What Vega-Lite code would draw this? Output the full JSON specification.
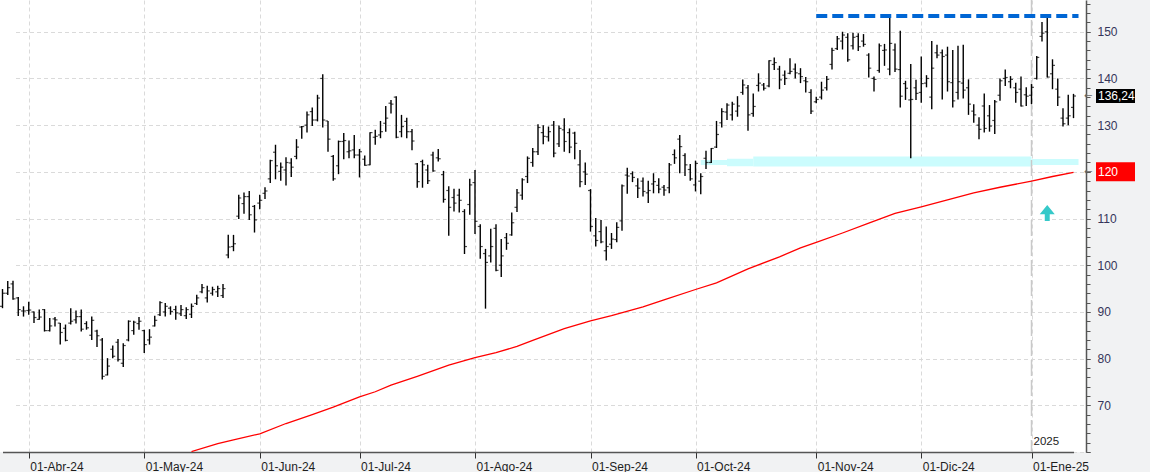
{
  "$schema": "https://vega.github.io/schema/vega-lite/v6.json",
  "width": 1086,
  "height": 452,
  "autosize": {"type": "none"},
  "padding": {"left": 0, "top": 0, "right": 64, "bottom": 20},
  "background": "#f1f2f3",
  "config": {"view": {"fill": "#ffffff", "stroke": null}, "font": "Liberation Sans"},
  "resolve": {"axis": {"y": "independent"}},
  "datasets": {
    "bars": [
      {"d":"2024-03-22","o":91.2,"h":94.9,"l":90.8,"c":94.0},
      {"d":"2024-03-25","o":94.0,"h":96.6,"l":93.6,"c":95.2},
      {"d":"2024-03-26","o":96.0,"h":96.7,"l":92.6,"c":92.8},
      {"d":"2024-03-27","o":93.0,"h":93.2,"l":89.1,"c":90.5},
      {"d":"2024-03-28","o":90.2,"h":91.2,"l":89.0,"c":90.2},
      {"d":"2024-04-01","o":90.3,"h":92.2,"l":89.4,"c":90.4},
      {"d":"2024-04-02","o":90.0,"h":90.1,"l":87.6,"c":88.8},
      {"d":"2024-04-03","o":88.4,"h":90.5,"l":88.3,"c":88.9},
      {"d":"2024-04-04","o":90.5,"h":90.6,"l":85.8,"c":86.0},
      {"d":"2024-04-05","o":86.0,"h":88.7,"l":85.8,"c":87.0},
      {"d":"2024-04-08","o":88.5,"h":88.9,"l":86.9,"c":88.3},
      {"d":"2024-04-09","o":87.6,"h":87.6,"l":83.0,"c":85.6},
      {"d":"2024-04-10","o":86.5,"h":87.3,"l":83.7,"c":83.9},
      {"d":"2024-04-11","o":87.6,"h":90.8,"l":87.3,"c":88.0},
      {"d":"2024-04-12","o":88.3,"h":90.3,"l":87.5,"c":89.0},
      {"d":"2024-04-15","o":89.0,"h":90.5,"l":85.8,"c":86.3},
      {"d":"2024-04-16","o":87.5,"h":88.0,"l":86.2,"c":86.6},
      {"d":"2024-04-17","o":85.0,"h":89.0,"l":84.0,"c":88.2},
      {"d":"2024-04-18","o":85.9,"h":86.2,"l":82.5,"c":84.9},
      {"d":"2024-04-19","o":84.0,"h":84.4,"l":75.5,"c":76.2},
      {"d":"2024-04-22","o":76.5,"h":80.1,"l":76.4,"c":78.4},
      {"d":"2024-04-23","o":82.0,"h":82.8,"l":80.1,"c":80.5},
      {"d":"2024-04-24","o":83.5,"h":84.2,"l":79.4,"c":79.8},
      {"d":"2024-04-25","o":79.0,"h":83.3,"l":78.2,"c":82.8},
      {"d":"2024-04-26","o":84.0,"h":88.2,"l":83.7,"c":88.0},
      {"d":"2024-04-29","o":86.0,"h":88.1,"l":85.1,"c":87.8},
      {"d":"2024-04-30","o":87.5,"h":88.9,"l":86.2,"c":88.0},
      {"d":"2024-05-01","o":86.0,"h":86.2,"l":81.2,"c":83.0},
      {"d":"2024-05-02","o":84.0,"h":86.3,"l":83.0,"c":84.6},
      {"d":"2024-05-03","o":87.0,"h":89.2,"l":86.9,"c":88.2},
      {"d":"2024-05-06","o":89.4,"h":92.3,"l":89.1,"c":92.0},
      {"d":"2024-05-07","o":90.0,"h":91.9,"l":89.0,"c":91.2},
      {"d":"2024-05-08","o":90.8,"h":91.2,"l":89.4,"c":90.1},
      {"d":"2024-05-09","o":90.5,"h":91.3,"l":88.3,"c":89.8},
      {"d":"2024-05-10","o":89.6,"h":91.5,"l":89.1,"c":90.5},
      {"d":"2024-05-13","o":89.2,"h":91.0,"l":88.5,"c":90.5},
      {"d":"2024-05-14","o":89.5,"h":91.8,"l":88.7,"c":91.2},
      {"d":"2024-05-15","o":91.8,"h":93.7,"l":91.5,"c":93.0},
      {"d":"2024-05-16","o":94.3,"h":96.0,"l":94.0,"c":95.2},
      {"d":"2024-05-17","o":93.0,"h":95.6,"l":92.0,"c":94.5},
      {"d":"2024-05-20","o":94.0,"h":95.4,"l":93.5,"c":94.8},
      {"d":"2024-05-21","o":94.3,"h":95.6,"l":93.2,"c":95.0},
      {"d":"2024-05-22","o":93.5,"h":96.0,"l":93.0,"c":95.0},
      {"d":"2024-05-23","o":102.2,"h":106.5,"l":101.5,"c":103.9},
      {"d":"2024-05-24","o":104.0,"h":106.5,"l":103.0,"c":104.6},
      {"d":"2024-05-28","o":110.5,"h":115.1,"l":109.9,"c":114.4},
      {"d":"2024-05-29","o":113.2,"h":115.6,"l":111.0,"c":114.7},
      {"d":"2024-05-30","o":114.7,"h":115.9,"l":109.7,"c":110.8},
      {"d":"2024-05-31","o":112.6,"h":112.9,"l":107.0,"c":109.7},
      {"d":"2024-06-03","o":113.3,"h":115.1,"l":112.0,"c":113.9},
      {"d":"2024-06-04","o":115.4,"h":116.7,"l":114.2,"c":115.9},
      {"d":"2024-06-05","o":118.5,"h":122.6,"l":117.6,"c":122.4},
      {"d":"2024-06-06","o":124.2,"h":125.8,"l":118.4,"c":121.3},
      {"d":"2024-06-07","o":120.1,"h":122.0,"l":118.1,"c":121.0},
      {"d":"2024-06-10","o":120.4,"h":123.1,"l":117.1,"c":122.0},
      {"d":"2024-06-11","o":121.9,"h":122.9,"l":118.9,"c":121.0},
      {"d":"2024-06-12","o":123.3,"h":127.0,"l":122.7,"c":125.3},
      {"d":"2024-06-13","o":129.6,"h":129.8,"l":127.1,"c":129.7},
      {"d":"2024-06-14","o":130.0,"h":132.9,"l":128.4,"c":132.2},
      {"d":"2024-06-17","o":132.9,"h":133.8,"l":129.8,"c":131.1},
      {"d":"2024-06-18","o":131.1,"h":136.5,"l":130.8,"c":135.8},
      {"d":"2024-06-20","o":140.0,"h":140.9,"l":129.5,"c":131.1},
      {"d":"2024-06-21","o":130.9,"h":130.9,"l":124.3,"c":127.0},
      {"d":"2024-06-24","o":123.3,"h":123.6,"l":118.1,"c":118.5},
      {"d":"2024-06-25","o":121.3,"h":126.7,"l":119.5,"c":126.5},
      {"d":"2024-06-26","o":126.5,"h":128.3,"l":122.7,"c":126.7},
      {"d":"2024-06-27","o":124.3,"h":126.7,"l":122.9,"c":124.5},
      {"d":"2024-06-28","o":124.7,"h":127.9,"l":122.9,"c":123.6},
      {"d":"2024-07-01","o":123.6,"h":124.9,"l":118.8,"c":124.3},
      {"d":"2024-07-02","o":122.7,"h":123.5,"l":121.3,"c":121.4},
      {"d":"2024-07-03","o":121.5,"h":128.5,"l":121.4,"c":128.4},
      {"d":"2024-07-05","o":127.4,"h":129.0,"l":125.8,"c":127.6},
      {"d":"2024-07-08","o":127.9,"h":130.9,"l":127.2,"c":128.6},
      {"d":"2024-07-09","o":130.4,"h":134.1,"l":128.6,"c":131.5},
      {"d":"2024-07-10","o":134.7,"h":135.4,"l":132.5,"c":134.5},
      {"d":"2024-07-11","o":136.0,"h":136.2,"l":127.2,"c":127.4},
      {"d":"2024-07-12","o":128.6,"h":132.2,"l":127.4,"c":129.7},
      {"d":"2024-07-15","o":130.8,"h":131.6,"l":127.2,"c":128.6},
      {"d":"2024-07-16","o":128.6,"h":129.2,"l":124.6,"c":126.6},
      {"d":"2024-07-17","o":121.7,"h":121.9,"l":116.6,"c":117.9},
      {"d":"2024-07-18","o":122.2,"h":122.6,"l":116.6,"c":121.5},
      {"d":"2024-07-19","o":120.4,"h":121.5,"l":117.4,"c":118.1},
      {"d":"2024-07-22","o":123.6,"h":124.3,"l":120.0,"c":120.2},
      {"d":"2024-07-23","o":123.0,"h":124.9,"l":122.2,"c":122.8},
      {"d":"2024-07-24","o":119.4,"h":120.2,"l":113.4,"c":114.1},
      {"d":"2024-07-25","o":116.0,"h":116.9,"l":106.3,"c":112.4},
      {"d":"2024-07-26","o":114.5,"h":116.4,"l":111.5,"c":113.3},
      {"d":"2024-07-29","o":115.0,"h":116.4,"l":111.3,"c":113.9},
      {"d":"2024-07-30","o":111.5,"h":112.0,"l":102.4,"c":104.0},
      {"d":"2024-07-31","o":113.0,"h":118.5,"l":110.8,"c":117.2},
      {"d":"2024-08-01","o":117.7,"h":120.4,"l":106.7,"c":109.4},
      {"d":"2024-08-02","o":108.3,"h":108.8,"l":101.4,"c":104.0},
      {"d":"2024-08-05","o":102.5,"h":103.5,"l":90.7,"c":100.6},
      {"d":"2024-08-06","o":102.0,"h":107.8,"l":100.6,"c":104.0},
      {"d":"2024-08-07","o":107.9,"h":108.8,"l":98.7,"c":98.9},
      {"d":"2024-08-08","o":100.0,"h":105.6,"l":97.5,"c":102.0},
      {"d":"2024-08-09","o":105.9,"h":106.9,"l":103.3,"c":104.7},
      {"d":"2024-08-12","o":106.5,"h":111.3,"l":106.3,"c":109.1},
      {"d":"2024-08-13","o":112.4,"h":116.3,"l":111.4,"c":115.5},
      {"d":"2024-08-14","o":115.0,"h":118.6,"l":114.0,"c":118.3},
      {"d":"2024-08-15","o":119.0,"h":123.3,"l":117.6,"c":122.9},
      {"d":"2024-08-16","o":122.0,"h":125.1,"l":121.1,"c":124.3},
      {"d":"2024-08-19","o":124.3,"h":130.2,"l":123.6,"c":129.5},
      {"d":"2024-08-20","o":128.4,"h":130.0,"l":125.9,"c":127.6},
      {"d":"2024-08-21","o":127.5,"h":129.7,"l":126.5,"c":128.6},
      {"d":"2024-08-22","o":130.0,"h":130.9,"l":123.1,"c":124.0},
      {"d":"2024-08-23","o":126.0,"h":129.9,"l":125.3,"c":129.3},
      {"d":"2024-08-26","o":129.0,"h":131.5,"l":124.3,"c":126.5},
      {"d":"2024-08-27","o":128.4,"h":129.3,"l":124.0,"c":125.3},
      {"d":"2024-08-28","o":128.3,"h":128.6,"l":122.7,"c":126.1},
      {"d":"2024-08-29","o":121.5,"h":124.7,"l":116.7,"c":117.9},
      {"d":"2024-08-30","o":120.0,"h":122.0,"l":117.2,"c":119.5},
      {"d":"2024-09-03","o":116.0,"h":116.3,"l":107.2,"c":108.3},
      {"d":"2024-09-04","o":106.3,"h":110.1,"l":104.0,"c":105.3},
      {"d":"2024-09-05","o":107.2,"h":109.7,"l":104.7,"c":105.0},
      {"d":"2024-09-06","o":103.1,"h":108.3,"l":101.0,"c":104.0},
      {"d":"2024-09-09","o":104.5,"h":106.9,"l":103.5,"c":105.6},
      {"d":"2024-09-10","o":105.5,"h":109.2,"l":104.9,"c":108.1},
      {"d":"2024-09-11","o":109.5,"h":117.3,"l":107.4,"c":117.0},
      {"d":"2024-09-12","o":119.3,"h":120.9,"l":115.3,"c":119.1},
      {"d":"2024-09-13","o":119.6,"h":120.1,"l":117.8,"c":118.8},
      {"d":"2024-09-16","o":117.0,"h":118.6,"l":114.4,"c":116.5},
      {"d":"2024-09-17","o":118.0,"h":118.8,"l":114.7,"c":115.8},
      {"d":"2024-09-18","o":115.5,"h":118.1,"l":113.3,"c":116.0},
      {"d":"2024-09-19","o":117.4,"h":119.7,"l":115.4,"c":117.9},
      {"d":"2024-09-20","o":117.1,"h":118.6,"l":115.4,"c":116.3},
      {"d":"2024-09-23","o":116.7,"h":117.2,"l":114.9,"c":116.1},
      {"d":"2024-09-24","o":116.6,"h":121.9,"l":115.4,"c":121.5},
      {"d":"2024-09-25","o":123.7,"h":124.8,"l":121.7,"c":123.0},
      {"d":"2024-09-26","o":127.0,"h":127.9,"l":119.7,"c":125.4},
      {"d":"2024-09-27","o":123.5,"h":124.0,"l":119.1,"c":121.5},
      {"d":"2024-09-30","o":120.5,"h":121.7,"l":118.1,"c":118.5},
      {"d":"2024-10-01","o":117.2,"h":122.4,"l":115.8,"c":121.8},
      {"d":"2024-10-02","o":118.0,"h":119.7,"l":115.2,"c":119.0},
      {"d":"2024-10-03","o":122.9,"h":124.5,"l":120.6,"c":122.0},
      {"d":"2024-10-04","o":122.0,"h":125.1,"l":121.9,"c":125.0},
      {"d":"2024-10-07","o":125.3,"h":130.9,"l":125.1,"c":128.0},
      {"d":"2024-10-08","o":130.5,"h":133.6,"l":129.5,"c":132.9},
      {"d":"2024-10-09","o":132.8,"h":134.7,"l":131.1,"c":134.3},
      {"d":"2024-10-10","o":132.2,"h":135.0,"l":131.0,"c":134.5},
      {"d":"2024-10-11","o":133.0,"h":136.2,"l":131.8,"c":134.1},
      {"d":"2024-10-14","o":137.0,"h":139.8,"l":136.5,"c":138.6},
      {"d":"2024-10-15","o":138.0,"h":138.6,"l":128.8,"c":132.2},
      {"d":"2024-10-16","o":132.5,"h":136.8,"l":131.8,"c":134.0},
      {"d":"2024-10-17","o":138.5,"h":141.1,"l":137.2,"c":139.0},
      {"d":"2024-10-18","o":138.6,"h":139.0,"l":137.4,"c":137.9},
      {"d":"2024-10-21","o":138.4,"h":143.9,"l":138.1,"c":143.8},
      {"d":"2024-10-22","o":143.0,"h":144.5,"l":141.8,"c":143.4},
      {"d":"2024-10-23","o":142.0,"h":142.7,"l":137.7,"c":139.7},
      {"d":"2024-10-24","o":140.7,"h":141.7,"l":138.6,"c":140.0},
      {"d":"2024-10-25","o":141.1,"h":144.3,"l":140.9,"c":141.5},
      {"d":"2024-10-28","o":142.0,"h":143.2,"l":140.0,"c":141.2},
      {"d":"2024-10-29","o":141.0,"h":142.2,"l":139.0,"c":140.4},
      {"d":"2024-10-30","o":139.5,"h":140.3,"l":137.0,"c":139.3},
      {"d":"2024-10-31","o":137.0,"h":137.7,"l":132.4,"c":133.0},
      {"d":"2024-11-01","o":135.0,"h":136.1,"l":134.7,"c":135.5},
      {"d":"2024-11-04","o":136.0,"h":139.3,"l":135.5,"c":137.5},
      {"d":"2024-11-05","o":138.0,"h":140.5,"l":137.4,"c":139.8},
      {"d":"2024-11-06","o":143.0,"h":146.6,"l":141.9,"c":146.0},
      {"d":"2024-11-07","o":146.4,"h":149.1,"l":146.1,"c":148.5},
      {"d":"2024-11-08","o":148.0,"h":150.0,"l":146.2,"c":149.3},
      {"d":"2024-11-11","o":148.8,"h":149.7,"l":143.6,"c":144.0},
      {"d":"2024-11-12","o":147.0,"h":149.8,"l":146.2,"c":148.8},
      {"d":"2024-11-13","o":149.0,"h":149.7,"l":145.9,"c":146.8},
      {"d":"2024-11-14","o":148.0,"h":149.5,"l":146.8,"c":147.3},
      {"d":"2024-11-15","o":145.0,"h":145.4,"l":140.2,"c":142.2},
      {"d":"2024-11-18","o":140.0,"h":140.4,"l":137.2,"c":139.8},
      {"d":"2024-11-19","o":141.7,"h":147.5,"l":141.2,"c":147.0},
      {"d":"2024-11-20","o":146.0,"h":147.4,"l":142.7,"c":146.1},
      {"d":"2024-11-21","o":142.0,"h":153.2,"l":140.7,"c":147.5},
      {"d":"2024-11-22","o":146.1,"h":147.5,"l":141.4,"c":142.0},
      {"d":"2024-11-25","o":141.9,"h":150.2,"l":133.8,"c":136.2},
      {"d":"2024-11-26","o":138.9,"h":139.5,"l":135.4,"c":137.9},
      {"d":"2024-11-27","o":135.4,"h":143.1,"l":122.9,"c":135.5},
      {"d":"2024-11-29","o":138.0,"h":139.7,"l":135.4,"c":136.8},
      {"d":"2024-12-02","o":137.0,"h":144.7,"l":134.8,"c":138.9},
      {"d":"2024-12-03","o":139.0,"h":140.7,"l":138.1,"c":140.0},
      {"d":"2024-12-04","o":136.0,"h":148.0,"l":133.4,"c":142.2},
      {"d":"2024-12-05","o":145.5,"h":147.2,"l":144.3,"c":145.0},
      {"d":"2024-12-06","o":145.5,"h":146.2,"l":135.5,"c":144.7},
      {"d":"2024-12-09","o":145.0,"h":146.8,"l":137.2,"c":139.3},
      {"d":"2024-12-10","o":139.1,"h":146.1,"l":133.8,"c":135.2},
      {"d":"2024-12-11","o":137.0,"h":147.0,"l":135.5,"c":139.3},
      {"d":"2024-12-12","o":139.0,"h":147.2,"l":135.7,"c":137.5},
      {"d":"2024-12-13","o":138.0,"h":139.8,"l":132.2,"c":134.5},
      {"d":"2024-12-16","o":133.0,"h":134.5,"l":130.5,"c":132.2},
      {"d":"2024-12-17","o":130.0,"h":131.7,"l":127.0,"c":129.1},
      {"d":"2024-12-18","o":134.1,"h":136.8,"l":128.4,"c":129.3},
      {"d":"2024-12-19","o":132.0,"h":134.3,"l":128.6,"c":129.8},
      {"d":"2024-12-20","o":131.0,"h":135.4,"l":128.1,"c":135.0},
      {"d":"2024-12-23","o":136.4,"h":140.0,"l":135.2,"c":139.5},
      {"d":"2024-12-24","o":140.0,"h":141.9,"l":138.4,"c":140.2},
      {"d":"2024-12-26","o":139.3,"h":140.5,"l":137.9,"c":139.8},
      {"d":"2024-12-27","o":138.0,"h":139.1,"l":134.8,"c":137.0},
      {"d":"2024-12-30","o":137.7,"h":140.4,"l":134.0,"c":134.1},
      {"d":"2024-12-31","o":136.5,"h":138.1,"l":134.1,"c":136.2},
      {"d":"2025-01-02","o":136.4,"h":138.8,"l":134.5,"c":138.1},
      {"d":"2025-01-03","o":140.0,"h":144.8,"l":139.8,"c":144.5},
      {"d":"2025-01-06","o":149.0,"h":152.1,"l":147.9,"c":149.7},
      {"d":"2025-01-07","o":150.0,"h":153.2,"l":140.2,"c":140.3},
      {"d":"2025-01-08","o":141.0,"h":144.1,"l":137.7,"c":142.8},
      {"d":"2025-01-10","o":137.7,"h":140.0,"l":134.1,"c":136.0},
      {"d":"2025-01-13","o":131.5,"h":133.6,"l":129.7,"c":130.3},
      {"d":"2025-01-14","o":131.5,"h":136.5,"l":130.0,"c":132.0},
      {"d":"2025-01-15","o":133.8,"h":136.7,"l":131.5,"c":136.24}
    ],
    "sma": [
      {"d":"2024-05-14","m":60.1},{"d":"2024-05-21","m":61.8},{"d":"2024-05-24","m":62.6},
      {"d":"2024-06-03","m":63.9},{"d":"2024-06-10","m":66.1},{"d":"2024-06-17","m":68.0},
      {"d":"2024-06-24","m":69.6},{"d":"2024-07-01","m":71.8},{"d":"2024-07-05","m":72.9},
      {"d":"2024-07-10","m":74.3},{"d":"2024-07-17","m":76.2},{"d":"2024-07-25","m":78.6},
      {"d":"2024-08-01","m":80.2},{"d":"2024-08-07","m":81.3},{"d":"2024-08-13","m":82.6},
      {"d":"2024-08-16","m":83.9},{"d":"2024-08-26","m":86.4},{"d":"2024-09-03","m":88.1},
      {"d":"2024-09-09","m":89.2},{"d":"2024-09-17","m":91.1},{"d":"2024-09-23","m":92.6},
      {"d":"2024-10-01","m":94.8},{"d":"2024-10-07","m":96.2},{"d":"2024-10-15","m":99.2},
      {"d":"2024-10-23","m":101.8},{"d":"2024-10-29","m":103.7},{"d":"2024-11-01","m":104.9},
      {"d":"2024-11-08","m":106.9},{"d":"2024-11-15","m":109.0},{"d":"2024-11-22","m":111.1},
      {"d":"2024-12-02","m":112.5},{"d":"2024-12-09","m":114.0},{"d":"2024-12-16","m":115.5},
      {"d":"2024-12-23","m":116.7},{"d":"2025-01-02","m":118.0},{"d":"2025-01-08","m":119.0},
      {"d":"2025-01-15","m":119.9}
    ],
    "levels": [
      {"k":"res","d":"2024-11-01","d2":"2025-01-15","p":153.4},
      {"k":"a","d":"2024-10-02","d2":"2024-10-09","p":122.0},
      {"k":"b","d":"2024-10-09","d2":"2024-10-16","p":122.0},
      {"k":"c","d":"2024-10-16","d2":"2025-01-02","p":122.2},
      {"k":"e","d":"2025-01-02","d2":"2025-01-15","p":122.1}
    ],
    "marks": [
      {"k":"year","d":"2025-01-02","p":62.2,"t":"2025"},
      {"k":"arrow","d":"2025-01-07","p":111.2,"t":""}
    ],
    "boxes": [
      {"k":"last","p":136.24,"t":"136,24"},
      {"k":"ma","p":120.0,"t":"120"}
    ]
  },
  "encoding": {
    "x": {
      "field": "d", "type": "ordinal", "title": null,
      "scale": {"type": "point", "range": [2.5, 1073.5], "padding": 0},
      "axis": {
        "orient": "bottom",
        "values": ["2024-04-01","2024-05-01","2024-06-03","2024-07-01","2024-08-01","2024-09-03","2024-10-01","2024-11-01","2024-12-02","2025-01-02"],
        "labelExpr": "'01-' + ['Ene','Feb','Mar','Abr','May','Jun','Jul','Ago','Sep','Oct','Nov','Dic'][toNumber(slice(datum.value,5,7))-1] + '-' + slice(datum.value,2,4)",
        "labelAlign": "left", "labelAngle": 0, "labelOffset": 1, "labelPadding": 3,
        "labelFontSize": 12, "labelFont": "Liberation Sans", "labelColor": "#1e1e1e",
        "labelOverlap": false, "labelFlush": false, "labelBound": false,
        "tickSize": 6, "tickColor": "#333333", "tickWidth": 1,
        "domainColor": "#555555", "domainWidth": 1.5,
        "grid": true, "gridColor": "#dadada", "gridDash": [4, 3], "gridWidth": 1
      }
    }
  },
  "layer": [
    {
      "data": {"name": "levels"},
      "transform": [{"filter": "datum.k == 'a'"}],
      "mark": {"type": "rule", "color": "#cbfcfd", "strokeWidth": 5},
      "encoding": {
        "x2": {"field": "d2"},
        "y": {"field": "p", "type": "quantitative", "title": null, "axis": null, "scale": {"domain": [60, 156.8], "nice": false, "zero": false}}
      }
    },
    {
      "data": {"name": "levels"},
      "transform": [{"filter": "datum.k == 'b'"}],
      "mark": {"type": "rule", "color": "#cbfcfd", "strokeWidth": 7.5},
      "encoding": {
        "x2": {"field": "d2"},
        "y": {"field": "p", "type": "quantitative", "title": null, "axis": null, "scale": {"domain": [60, 156.8], "nice": false, "zero": false}}
      }
    },
    {
      "data": {"name": "levels"},
      "transform": [{"filter": "datum.k == 'c'"}],
      "mark": {"type": "rule", "color": "#cbfcfd", "strokeWidth": 10},
      "encoding": {
        "x2": {"field": "d2"},
        "y": {"field": "p", "type": "quantitative", "title": null, "axis": null, "scale": {"domain": [60, 156.8], "nice": false, "zero": false}}
      }
    },
    {
      "data": {"name": "levels"},
      "transform": [{"filter": "datum.k == 'e'"}],
      "mark": {"type": "rule", "color": "#cbfcfd", "strokeWidth": 6, "x2Offset": 5},
      "encoding": {
        "x2": {"field": "d2"},
        "y": {"field": "p", "type": "quantitative", "title": null, "axis": null, "scale": {"domain": [60, 156.8], "nice": false, "zero": false}}
      }
    },
    {
      "data": {"name": "marks"},
      "transform": [{"filter": "datum.k == 'year'"}],
      "mark": {"type": "rule", "color": "#c9c9c9", "strokeWidth": 1.5, "strokeDash": [16, 4]},
      "encoding": {}
    },
    {
      "data": {"name": "bars"},
      "mark": {"type": "rule", "color": "#000000", "strokeWidth": 1.4},
      "encoding": {
        "y": {
          "field": "l", "type": "quantitative", "title": null,
          "scale": {"domain": [60, 156.8], "nice": false, "zero": false},
          "axis": {
            "orient": "right",
            "values": [60,70,80,90,100,110,120,130,140,150],
            "labelExpr": "datum.value > 60 ? datum.label : ''",
            "labelFontSize": 12, "labelFont": "Liberation Sans", "labelColor": "#35355a",
            "labelPadding": 7, "labelOverlap": false, "labelFlush": false, "labelBound": false,
            "tickSize": 4, "tickColor": "#555555",
            "domainColor": "#555555", "domainWidth": 1.5,
            "grid": true, "gridColor": "#dadada", "gridDash": [4, 3]
          }
        },
        "y2": {"field": "h"}
      }
    },
    {
      "data": {"name": "bars"},
      "mark": {"type": "tick", "color": "#000000", "size": 2.5, "thickness": 1.2, "xOffset": -1.25},
      "encoding": {
        "y": {
          "field": "o", "type": "quantitative", "title": null,
          "scale": {"domain": [60, 156.8], "nice": false, "zero": false},
          "axis": {
            "orient": "right",
            "values": [60,62,64,66,68,70,72,74,76,78,80,82,84,86,88,90,92,94,96,98,100,102,104,106,108,110,112,114,116,118,120,122,124,126,128,130,132,134,136,138,140,142,144,146,148,150,152,154,156],
            "labels": false, "grid": false, "domain": false,
            "tickSize": 4, "tickColor": "#555555"
          }
        }
      }
    },
    {
      "data": {"name": "bars"},
      "mark": {"type": "tick", "color": "#000000", "size": 2.5, "thickness": 1.2, "xOffset": 1.25},
      "encoding": {
        "y": {"field": "c", "type": "quantitative", "title": null, "axis": null, "scale": {"domain": [60, 156.8], "nice": false, "zero": false}}
      }
    },
    {
      "data": {"name": "sma"},
      "mark": {"type": "line", "color": "#ff0000", "strokeWidth": 1.3, "clip": true},
      "encoding": {
        "y": {"field": "m", "type": "quantitative", "title": null, "axis": null, "scale": {"domain": [60, 156.8], "nice": false, "zero": false}}
      }
    },
    {
      "data": {"name": "levels"},
      "transform": [{"filter": "datum.k == 'res'"}],
      "mark": {"type": "rule", "color": "#0066d4", "strokeWidth": 4, "strokeDash": [11, 5], "x2Offset": 5},
      "encoding": {
        "x2": {"field": "d2"},
        "y": {"field": "p", "type": "quantitative", "title": null, "axis": null, "scale": {"domain": [60, 156.8], "nice": false, "zero": false}}
      }
    },
    {
      "data": {"name": "marks"},
      "transform": [{"filter": "datum.k == 'arrow'"}],
      "mark": {"type": "point", "filled": true, "color": "#36c9c9", "opacity": 1, "strokeWidth": 0, "size": 256,
               "shape": "M0,-1 L0.94,0.16 L0.31,0.16 L0.31,1 L-0.31,1 L-0.31,0.16 L-0.94,0.16 Z"},
      "encoding": {
        "y": {"field": "p", "type": "quantitative", "title": null, "axis": null, "scale": {"domain": [60, 156.8], "nice": false, "zero": false}}
      }
    },
    {
      "data": {"name": "marks"},
      "transform": [{"filter": "datum.k == 'year'"}],
      "mark": {"type": "text", "align": "left", "baseline": "middle", "dx": 2, "fontSize": 11.5, "font": "Liberation Sans", "color": "#222222"},
      "encoding": {
        "y": {"field": "p", "type": "quantitative", "title": null, "axis": null, "scale": {"domain": [60, 156.8], "nice": false, "zero": false}},
        "text": {"field": "t"}
      }
    },
    {
      "data": {"name": "boxes"},
      "transform": [{"filter": "datum.k == 'last'"}],
      "mark": {"type": "rect", "color": "#000000", "xOffset": 10, "x2Offset": 49, "yOffset": -7, "y2Offset": 7},
      "encoding": {
        "x": {"value": "width"},
        "x2": {"value": "width"},
        "y": {"field": "p", "type": "quantitative", "title": null, "axis": null, "scale": {"domain": [60, 156.8], "nice": false, "zero": false}},
        "y2": {"field": "p"}
      }
    },
    {
      "data": {"name": "boxes"},
      "transform": [{"filter": "datum.k == 'ma'"}],
      "mark": {"type": "rect", "color": "#ff0000", "xOffset": 10, "x2Offset": 49, "yOffset": -9.5, "y2Offset": 9.5},
      "encoding": {
        "x": {"value": "width"},
        "x2": {"value": "width"},
        "y": {"field": "p", "type": "quantitative", "title": null, "axis": null, "scale": {"domain": [60, 156.8], "nice": false, "zero": false}},
        "y2": {"field": "p"}
      }
    },
    {
      "data": {"name": "boxes"},
      "mark": {"type": "text", "align": "left", "baseline": "middle", "xOffset": 12, "fontSize": 12, "font": "Liberation Sans", "color": "#ffffff"},
      "encoding": {
        "x": {"value": "width"},
        "y": {"field": "p", "type": "quantitative", "title": null, "axis": null, "scale": {"domain": [60, 156.8], "nice": false, "zero": false}},
        "text": {"field": "t"}
      }
    },
    {
      "data": {"name": "boxes"},
      "mark": {"type": "text", "align": "left", "baseline": "middle", "xOffset": -2, "fontSize": 10, "font": "DejaVu Sans", "color": "#666666", "text": "←"},
      "encoding": {
        "x": {"value": "width"},
        "y": {"field": "p", "type": "quantitative", "title": null, "axis": null, "scale": {"domain": [60, 156.8], "nice": false, "zero": false}}
      }
    }
  ]
}
